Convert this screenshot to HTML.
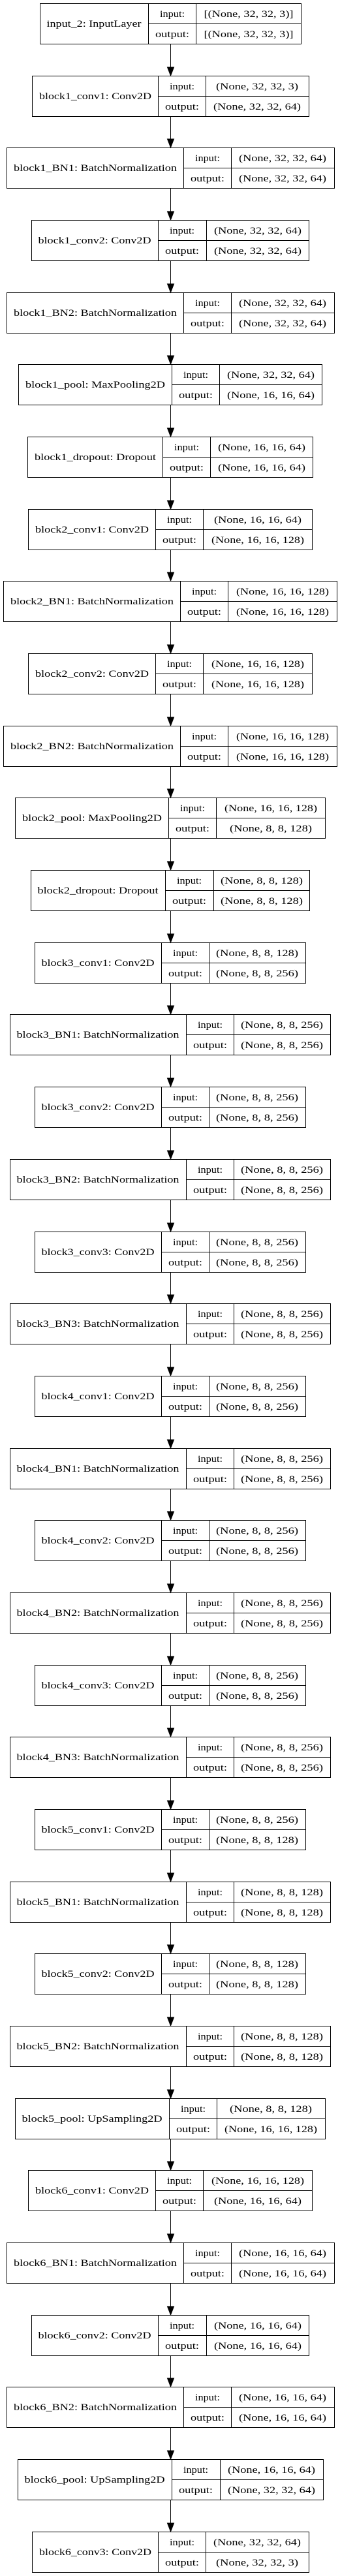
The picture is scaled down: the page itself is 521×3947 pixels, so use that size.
<!DOCTYPE html>
<html><head><meta charset="utf-8"><style>
html,body{margin:0;padding:0;background:#fff}
svg{display:block}
text{font-family:"Liberation Serif","DejaVu Serif",serif;font-size:15px;fill:#000;text-anchor:middle}
rect{fill:#fff;stroke:#000;stroke-width:1}
line{stroke:#000;stroke-width:1}
polygon{fill:#000;stroke:#000}
</style></head><body>
<svg width="521" height="3947" viewBox="0 0 521 3947" xmlns="http://www.w3.org/2000/svg">
<g transform="translate(0,5)"><rect x="61.5" y="0.5" width="400" height="62"/><line x1="227.5" y1="0.5" x2="227.5" y2="62.5"/><line x1="300.5" y1="0.5" x2="300.5" y2="62.5"/><line x1="227.5" y1="31.5" x2="461.5" y2="31.5"/><text x="144" y="36" textLength="145" lengthAdjust="spacingAndGlyphs">input_2: InputLayer</text><text x="264" y="21" textLength="38" lengthAdjust="spacingAndGlyphs">input:</text><text x="264" y="52" textLength="52" lengthAdjust="spacingAndGlyphs">output:</text><text x="381" y="21" textLength="137" lengthAdjust="spacingAndGlyphs">[(None, 32, 32, 3)]</text><text x="381" y="52" textLength="137" lengthAdjust="spacingAndGlyphs">[(None, 32, 32, 3)]</text></g>
<g transform="translate(0,116)"><rect x="49.5" y="0.5" width="424" height="62"/><line x1="242.5" y1="0.5" x2="242.5" y2="62.5"/><line x1="315.5" y1="0.5" x2="315.5" y2="62.5"/><line x1="242.5" y1="31.5" x2="473.5" y2="31.5"/><text x="146" y="36" textLength="172" lengthAdjust="spacingAndGlyphs">block1_conv1: Conv2D</text><text x="279" y="21" textLength="38" lengthAdjust="spacingAndGlyphs">input:</text><text x="279" y="52" textLength="52" lengthAdjust="spacingAndGlyphs">output:</text><text x="394" y="21" textLength="126" lengthAdjust="spacingAndGlyphs">(None, 32, 32, 3)</text><text x="394" y="52" textLength="134" lengthAdjust="spacingAndGlyphs">(None, 32, 32, 64)</text></g>
<g transform="translate(0,226)"><rect x="10.5" y="0.5" width="502" height="62"/><line x1="281.5" y1="0.5" x2="281.5" y2="62.5"/><line x1="354.5" y1="0.5" x2="354.5" y2="62.5"/><line x1="281.5" y1="31.5" x2="512.5" y2="31.5"/><text x="146" y="36" textLength="250" lengthAdjust="spacingAndGlyphs">block1_BN1: BatchNormalization</text><text x="318" y="21" textLength="38" lengthAdjust="spacingAndGlyphs">input:</text><text x="318" y="52" textLength="52" lengthAdjust="spacingAndGlyphs">output:</text><text x="433" y="21" textLength="134" lengthAdjust="spacingAndGlyphs">(None, 32, 32, 64)</text><text x="433" y="52" textLength="134" lengthAdjust="spacingAndGlyphs">(None, 32, 32, 64)</text></g>
<g transform="translate(0,337)"><rect x="48.5" y="0.5" width="425" height="62"/><line x1="242.5" y1="0.5" x2="242.5" y2="62.5"/><line x1="316.5" y1="0.5" x2="316.5" y2="62.5"/><line x1="242.5" y1="31.5" x2="473.5" y2="31.5"/><text x="145" y="36" textLength="173" lengthAdjust="spacingAndGlyphs">block1_conv2: Conv2D</text><text x="279" y="21" textLength="38" lengthAdjust="spacingAndGlyphs">input:</text><text x="279" y="52" textLength="52" lengthAdjust="spacingAndGlyphs">output:</text><text x="395" y="21" textLength="134" lengthAdjust="spacingAndGlyphs">(None, 32, 32, 64)</text><text x="395" y="52" textLength="134" lengthAdjust="spacingAndGlyphs">(None, 32, 32, 64)</text></g>
<g transform="translate(0,448)"><rect x="10.5" y="0.5" width="502" height="62"/><line x1="281.5" y1="0.5" x2="281.5" y2="62.5"/><line x1="354.5" y1="0.5" x2="354.5" y2="62.5"/><line x1="281.5" y1="31.5" x2="512.5" y2="31.5"/><text x="146" y="36" textLength="250" lengthAdjust="spacingAndGlyphs">block1_BN2: BatchNormalization</text><text x="318" y="21" textLength="38" lengthAdjust="spacingAndGlyphs">input:</text><text x="318" y="52" textLength="52" lengthAdjust="spacingAndGlyphs">output:</text><text x="433" y="21" textLength="134" lengthAdjust="spacingAndGlyphs">(None, 32, 32, 64)</text><text x="433" y="52" textLength="134" lengthAdjust="spacingAndGlyphs">(None, 32, 32, 64)</text></g>
<g transform="translate(0,558)"><rect x="28.5" y="0.5" width="465" height="62"/><line x1="263.5" y1="0.5" x2="263.5" y2="62.5"/><line x1="336.5" y1="0.5" x2="336.5" y2="62.5"/><line x1="263.5" y1="31.5" x2="493.5" y2="31.5"/><text x="146" y="36" textLength="214" lengthAdjust="spacingAndGlyphs">block1_pool: MaxPooling2D</text><text x="300" y="21" textLength="38" lengthAdjust="spacingAndGlyphs">input:</text><text x="300" y="52" textLength="52" lengthAdjust="spacingAndGlyphs">output:</text><text x="415" y="21" textLength="134" lengthAdjust="spacingAndGlyphs">(None, 32, 32, 64)</text><text x="415" y="52" textLength="134" lengthAdjust="spacingAndGlyphs">(None, 16, 16, 64)</text></g>
<g transform="translate(0,669)"><rect x="42.5" y="0.5" width="437" height="62"/><line x1="249.5" y1="0.5" x2="249.5" y2="62.5"/><line x1="322.5" y1="0.5" x2="322.5" y2="62.5"/><line x1="249.5" y1="31.5" x2="479.5" y2="31.5"/><text x="146" y="36" textLength="186" lengthAdjust="spacingAndGlyphs">block1_dropout: Dropout</text><text x="286" y="21" textLength="38" lengthAdjust="spacingAndGlyphs">input:</text><text x="286" y="52" textLength="52" lengthAdjust="spacingAndGlyphs">output:</text><text x="401" y="21" textLength="134" lengthAdjust="spacingAndGlyphs">(None, 16, 16, 64)</text><text x="401" y="52" textLength="134" lengthAdjust="spacingAndGlyphs">(None, 16, 16, 64)</text></g>
<g transform="translate(0,780)"><rect x="43.5" y="0.5" width="435" height="62"/><line x1="238.5" y1="0.5" x2="238.5" y2="62.5"/><line x1="311.5" y1="0.5" x2="311.5" y2="62.5"/><line x1="238.5" y1="31.5" x2="478.5" y2="31.5"/><text x="141" y="36" textLength="174" lengthAdjust="spacingAndGlyphs">block2_conv1: Conv2D</text><text x="275" y="21" textLength="38" lengthAdjust="spacingAndGlyphs">input:</text><text x="275" y="52" textLength="52" lengthAdjust="spacingAndGlyphs">output:</text><text x="395" y="21" textLength="134" lengthAdjust="spacingAndGlyphs">(None, 16, 16, 64)</text><text x="395" y="52" textLength="142" lengthAdjust="spacingAndGlyphs">(None, 16, 16, 128)</text></g>
<g transform="translate(0,890)"><rect x="5.5" y="0.5" width="511" height="62"/><line x1="276.5" y1="0.5" x2="276.5" y2="62.5"/><line x1="349.5" y1="0.5" x2="349.5" y2="62.5"/><line x1="276.5" y1="31.5" x2="516.5" y2="31.5"/><text x="141" y="36" textLength="250" lengthAdjust="spacingAndGlyphs">block2_BN1: BatchNormalization</text><text x="313" y="21" textLength="38" lengthAdjust="spacingAndGlyphs">input:</text><text x="313" y="52" textLength="52" lengthAdjust="spacingAndGlyphs">output:</text><text x="433" y="21" textLength="142" lengthAdjust="spacingAndGlyphs">(None, 16, 16, 128)</text><text x="433" y="52" textLength="142" lengthAdjust="spacingAndGlyphs">(None, 16, 16, 128)</text></g>
<g transform="translate(0,1001)"><rect x="43.5" y="0.5" width="435" height="62"/><line x1="238.5" y1="0.5" x2="238.5" y2="62.5"/><line x1="311.5" y1="0.5" x2="311.5" y2="62.5"/><line x1="238.5" y1="31.5" x2="478.5" y2="31.5"/><text x="141" y="36" textLength="174" lengthAdjust="spacingAndGlyphs">block2_conv2: Conv2D</text><text x="275" y="21" textLength="38" lengthAdjust="spacingAndGlyphs">input:</text><text x="275" y="52" textLength="52" lengthAdjust="spacingAndGlyphs">output:</text><text x="395" y="21" textLength="142" lengthAdjust="spacingAndGlyphs">(None, 16, 16, 128)</text><text x="395" y="52" textLength="142" lengthAdjust="spacingAndGlyphs">(None, 16, 16, 128)</text></g>
<g transform="translate(0,1112)"><rect x="5.5" y="0.5" width="511" height="62"/><line x1="276.5" y1="0.5" x2="276.5" y2="62.5"/><line x1="349.5" y1="0.5" x2="349.5" y2="62.5"/><line x1="276.5" y1="31.5" x2="516.5" y2="31.5"/><text x="141" y="36" textLength="250" lengthAdjust="spacingAndGlyphs">block2_BN2: BatchNormalization</text><text x="313" y="21" textLength="38" lengthAdjust="spacingAndGlyphs">input:</text><text x="313" y="52" textLength="52" lengthAdjust="spacingAndGlyphs">output:</text><text x="433" y="21" textLength="142" lengthAdjust="spacingAndGlyphs">(None, 16, 16, 128)</text><text x="433" y="52" textLength="142" lengthAdjust="spacingAndGlyphs">(None, 16, 16, 128)</text></g>
<g transform="translate(0,1222)"><rect x="23.5" y="0.5" width="475" height="62"/><line x1="258.5" y1="0.5" x2="258.5" y2="62.5"/><line x1="331.5" y1="0.5" x2="331.5" y2="62.5"/><line x1="258.5" y1="31.5" x2="498.5" y2="31.5"/><text x="141" y="36" textLength="214" lengthAdjust="spacingAndGlyphs">block2_pool: MaxPooling2D</text><text x="295" y="21" textLength="38" lengthAdjust="spacingAndGlyphs">input:</text><text x="295" y="52" textLength="52" lengthAdjust="spacingAndGlyphs">output:</text><text x="415" y="21" textLength="142" lengthAdjust="spacingAndGlyphs">(None, 16, 16, 128)</text><text x="415" y="52" textLength="126" lengthAdjust="spacingAndGlyphs">(None, 8, 8, 128)</text></g>
<g transform="translate(0,1333)"><rect x="47.5" y="0.5" width="427" height="62"/><line x1="253.5" y1="0.5" x2="253.5" y2="62.5"/><line x1="327.5" y1="0.5" x2="327.5" y2="62.5"/><line x1="253.5" y1="31.5" x2="474.5" y2="31.5"/><text x="150" y="36" textLength="185" lengthAdjust="spacingAndGlyphs">block2_dropout: Dropout</text><text x="290" y="21" textLength="38" lengthAdjust="spacingAndGlyphs">input:</text><text x="290" y="52" textLength="52" lengthAdjust="spacingAndGlyphs">output:</text><text x="401" y="21" textLength="126" lengthAdjust="spacingAndGlyphs">(None, 8, 8, 128)</text><text x="401" y="52" textLength="126" lengthAdjust="spacingAndGlyphs">(None, 8, 8, 128)</text></g>
<g transform="translate(0,1444)"><rect x="53.5" y="0.5" width="415" height="62"/><line x1="247.5" y1="0.5" x2="247.5" y2="62.5"/><line x1="320.5" y1="0.5" x2="320.5" y2="62.5"/><line x1="247.5" y1="31.5" x2="468.5" y2="31.5"/><text x="150" y="36" textLength="173" lengthAdjust="spacingAndGlyphs">block3_conv1: Conv2D</text><text x="284" y="21" textLength="38" lengthAdjust="spacingAndGlyphs">input:</text><text x="284" y="52" textLength="52" lengthAdjust="spacingAndGlyphs">output:</text><text x="394" y="21" textLength="126" lengthAdjust="spacingAndGlyphs">(None, 8, 8, 128)</text><text x="394" y="52" textLength="126" lengthAdjust="spacingAndGlyphs">(None, 8, 8, 256)</text></g>
<g transform="translate(0,1554)"><rect x="15.5" y="0.5" width="491" height="62"/><line x1="285.5" y1="0.5" x2="285.5" y2="62.5"/><line x1="358.5" y1="0.5" x2="358.5" y2="62.5"/><line x1="285.5" y1="31.5" x2="506.5" y2="31.5"/><text x="150" y="36" textLength="249" lengthAdjust="spacingAndGlyphs">block3_BN1: BatchNormalization</text><text x="322" y="21" textLength="38" lengthAdjust="spacingAndGlyphs">input:</text><text x="322" y="52" textLength="52" lengthAdjust="spacingAndGlyphs">output:</text><text x="432" y="21" textLength="126" lengthAdjust="spacingAndGlyphs">(None, 8, 8, 256)</text><text x="432" y="52" textLength="126" lengthAdjust="spacingAndGlyphs">(None, 8, 8, 256)</text></g>
<g transform="translate(0,1665)"><rect x="53.5" y="0.5" width="415" height="62"/><line x1="247.5" y1="0.5" x2="247.5" y2="62.5"/><line x1="320.5" y1="0.5" x2="320.5" y2="62.5"/><line x1="247.5" y1="31.5" x2="468.5" y2="31.5"/><text x="150" y="36" textLength="173" lengthAdjust="spacingAndGlyphs">block3_conv2: Conv2D</text><text x="284" y="21" textLength="38" lengthAdjust="spacingAndGlyphs">input:</text><text x="284" y="52" textLength="52" lengthAdjust="spacingAndGlyphs">output:</text><text x="394" y="21" textLength="126" lengthAdjust="spacingAndGlyphs">(None, 8, 8, 256)</text><text x="394" y="52" textLength="126" lengthAdjust="spacingAndGlyphs">(None, 8, 8, 256)</text></g>
<g transform="translate(0,1776)"><rect x="15.5" y="0.5" width="491" height="62"/><line x1="285.5" y1="0.5" x2="285.5" y2="62.5"/><line x1="358.5" y1="0.5" x2="358.5" y2="62.5"/><line x1="285.5" y1="31.5" x2="506.5" y2="31.5"/><text x="150" y="36" textLength="249" lengthAdjust="spacingAndGlyphs">block3_BN2: BatchNormalization</text><text x="322" y="21" textLength="38" lengthAdjust="spacingAndGlyphs">input:</text><text x="322" y="52" textLength="52" lengthAdjust="spacingAndGlyphs">output:</text><text x="432" y="21" textLength="126" lengthAdjust="spacingAndGlyphs">(None, 8, 8, 256)</text><text x="432" y="52" textLength="126" lengthAdjust="spacingAndGlyphs">(None, 8, 8, 256)</text></g>
<g transform="translate(0,1887)"><rect x="53.5" y="0.5" width="415" height="62"/><line x1="247.5" y1="0.5" x2="247.5" y2="62.5"/><line x1="320.5" y1="0.5" x2="320.5" y2="62.5"/><line x1="247.5" y1="31.5" x2="468.5" y2="31.5"/><text x="150" y="36" textLength="173" lengthAdjust="spacingAndGlyphs">block3_conv3: Conv2D</text><text x="284" y="21" textLength="38" lengthAdjust="spacingAndGlyphs">input:</text><text x="284" y="52" textLength="52" lengthAdjust="spacingAndGlyphs">output:</text><text x="394" y="21" textLength="126" lengthAdjust="spacingAndGlyphs">(None, 8, 8, 256)</text><text x="394" y="52" textLength="126" lengthAdjust="spacingAndGlyphs">(None, 8, 8, 256)</text></g>
<g transform="translate(0,1997)"><rect x="15.5" y="0.5" width="491" height="62"/><line x1="285.5" y1="0.5" x2="285.5" y2="62.5"/><line x1="358.5" y1="0.5" x2="358.5" y2="62.5"/><line x1="285.5" y1="31.5" x2="506.5" y2="31.5"/><text x="150" y="36" textLength="249" lengthAdjust="spacingAndGlyphs">block3_BN3: BatchNormalization</text><text x="322" y="21" textLength="38" lengthAdjust="spacingAndGlyphs">input:</text><text x="322" y="52" textLength="52" lengthAdjust="spacingAndGlyphs">output:</text><text x="432" y="21" textLength="126" lengthAdjust="spacingAndGlyphs">(None, 8, 8, 256)</text><text x="432" y="52" textLength="126" lengthAdjust="spacingAndGlyphs">(None, 8, 8, 256)</text></g>
<g transform="translate(0,2108)"><rect x="53.5" y="0.5" width="415" height="62"/><line x1="247.5" y1="0.5" x2="247.5" y2="62.5"/><line x1="320.5" y1="0.5" x2="320.5" y2="62.5"/><line x1="247.5" y1="31.5" x2="468.5" y2="31.5"/><text x="150" y="36" textLength="173" lengthAdjust="spacingAndGlyphs">block4_conv1: Conv2D</text><text x="284" y="21" textLength="38" lengthAdjust="spacingAndGlyphs">input:</text><text x="284" y="52" textLength="52" lengthAdjust="spacingAndGlyphs">output:</text><text x="394" y="21" textLength="126" lengthAdjust="spacingAndGlyphs">(None, 8, 8, 256)</text><text x="394" y="52" textLength="126" lengthAdjust="spacingAndGlyphs">(None, 8, 8, 256)</text></g>
<g transform="translate(0,2219)"><rect x="15.5" y="0.5" width="491" height="62"/><line x1="285.5" y1="0.5" x2="285.5" y2="62.5"/><line x1="358.5" y1="0.5" x2="358.5" y2="62.5"/><line x1="285.5" y1="31.5" x2="506.5" y2="31.5"/><text x="150" y="36" textLength="249" lengthAdjust="spacingAndGlyphs">block4_BN1: BatchNormalization</text><text x="322" y="21" textLength="38" lengthAdjust="spacingAndGlyphs">input:</text><text x="322" y="52" textLength="52" lengthAdjust="spacingAndGlyphs">output:</text><text x="432" y="21" textLength="126" lengthAdjust="spacingAndGlyphs">(None, 8, 8, 256)</text><text x="432" y="52" textLength="126" lengthAdjust="spacingAndGlyphs">(None, 8, 8, 256)</text></g>
<g transform="translate(0,2329)"><rect x="53.5" y="0.5" width="415" height="62"/><line x1="247.5" y1="0.5" x2="247.5" y2="62.5"/><line x1="320.5" y1="0.5" x2="320.5" y2="62.5"/><line x1="247.5" y1="31.5" x2="468.5" y2="31.5"/><text x="150" y="36" textLength="173" lengthAdjust="spacingAndGlyphs">block4_conv2: Conv2D</text><text x="284" y="21" textLength="38" lengthAdjust="spacingAndGlyphs">input:</text><text x="284" y="52" textLength="52" lengthAdjust="spacingAndGlyphs">output:</text><text x="394" y="21" textLength="126" lengthAdjust="spacingAndGlyphs">(None, 8, 8, 256)</text><text x="394" y="52" textLength="126" lengthAdjust="spacingAndGlyphs">(None, 8, 8, 256)</text></g>
<g transform="translate(0,2440)"><rect x="15.5" y="0.5" width="491" height="62"/><line x1="285.5" y1="0.5" x2="285.5" y2="62.5"/><line x1="358.5" y1="0.5" x2="358.5" y2="62.5"/><line x1="285.5" y1="31.5" x2="506.5" y2="31.5"/><text x="150" y="36" textLength="249" lengthAdjust="spacingAndGlyphs">block4_BN2: BatchNormalization</text><text x="322" y="21" textLength="38" lengthAdjust="spacingAndGlyphs">input:</text><text x="322" y="52" textLength="52" lengthAdjust="spacingAndGlyphs">output:</text><text x="432" y="21" textLength="126" lengthAdjust="spacingAndGlyphs">(None, 8, 8, 256)</text><text x="432" y="52" textLength="126" lengthAdjust="spacingAndGlyphs">(None, 8, 8, 256)</text></g>
<g transform="translate(0,2551)"><rect x="53.5" y="0.5" width="415" height="62"/><line x1="247.5" y1="0.5" x2="247.5" y2="62.5"/><line x1="320.5" y1="0.5" x2="320.5" y2="62.5"/><line x1="247.5" y1="31.5" x2="468.5" y2="31.5"/><text x="150" y="36" textLength="173" lengthAdjust="spacingAndGlyphs">block4_conv3: Conv2D</text><text x="284" y="21" textLength="38" lengthAdjust="spacingAndGlyphs">input:</text><text x="284" y="52" textLength="52" lengthAdjust="spacingAndGlyphs">output:</text><text x="394" y="21" textLength="126" lengthAdjust="spacingAndGlyphs">(None, 8, 8, 256)</text><text x="394" y="52" textLength="126" lengthAdjust="spacingAndGlyphs">(None, 8, 8, 256)</text></g>
<g transform="translate(0,2661)"><rect x="15.5" y="0.5" width="491" height="62"/><line x1="285.5" y1="0.5" x2="285.5" y2="62.5"/><line x1="358.5" y1="0.5" x2="358.5" y2="62.5"/><line x1="285.5" y1="31.5" x2="506.5" y2="31.5"/><text x="150" y="36" textLength="249" lengthAdjust="spacingAndGlyphs">block4_BN3: BatchNormalization</text><text x="322" y="21" textLength="38" lengthAdjust="spacingAndGlyphs">input:</text><text x="322" y="52" textLength="52" lengthAdjust="spacingAndGlyphs">output:</text><text x="432" y="21" textLength="126" lengthAdjust="spacingAndGlyphs">(None, 8, 8, 256)</text><text x="432" y="52" textLength="126" lengthAdjust="spacingAndGlyphs">(None, 8, 8, 256)</text></g>
<g transform="translate(0,2772)"><rect x="53.5" y="0.5" width="415" height="62"/><line x1="247.5" y1="0.5" x2="247.5" y2="62.5"/><line x1="320.5" y1="0.5" x2="320.5" y2="62.5"/><line x1="247.5" y1="31.5" x2="468.5" y2="31.5"/><text x="150" y="36" textLength="173" lengthAdjust="spacingAndGlyphs">block5_conv1: Conv2D</text><text x="284" y="21" textLength="38" lengthAdjust="spacingAndGlyphs">input:</text><text x="284" y="52" textLength="52" lengthAdjust="spacingAndGlyphs">output:</text><text x="394" y="21" textLength="126" lengthAdjust="spacingAndGlyphs">(None, 8, 8, 256)</text><text x="394" y="52" textLength="126" lengthAdjust="spacingAndGlyphs">(None, 8, 8, 128)</text></g>
<g transform="translate(0,2883)"><rect x="15.5" y="0.5" width="491" height="62"/><line x1="285.5" y1="0.5" x2="285.5" y2="62.5"/><line x1="358.5" y1="0.5" x2="358.5" y2="62.5"/><line x1="285.5" y1="31.5" x2="506.5" y2="31.5"/><text x="150" y="36" textLength="249" lengthAdjust="spacingAndGlyphs">block5_BN1: BatchNormalization</text><text x="322" y="21" textLength="38" lengthAdjust="spacingAndGlyphs">input:</text><text x="322" y="52" textLength="52" lengthAdjust="spacingAndGlyphs">output:</text><text x="432" y="21" textLength="126" lengthAdjust="spacingAndGlyphs">(None, 8, 8, 128)</text><text x="432" y="52" textLength="126" lengthAdjust="spacingAndGlyphs">(None, 8, 8, 128)</text></g>
<g transform="translate(0,2993)"><rect x="53.5" y="0.5" width="415" height="62"/><line x1="247.5" y1="0.5" x2="247.5" y2="62.5"/><line x1="320.5" y1="0.5" x2="320.5" y2="62.5"/><line x1="247.5" y1="31.5" x2="468.5" y2="31.5"/><text x="150" y="36" textLength="173" lengthAdjust="spacingAndGlyphs">block5_conv2: Conv2D</text><text x="284" y="21" textLength="38" lengthAdjust="spacingAndGlyphs">input:</text><text x="284" y="52" textLength="52" lengthAdjust="spacingAndGlyphs">output:</text><text x="394" y="21" textLength="126" lengthAdjust="spacingAndGlyphs">(None, 8, 8, 128)</text><text x="394" y="52" textLength="126" lengthAdjust="spacingAndGlyphs">(None, 8, 8, 128)</text></g>
<g transform="translate(0,3104)"><rect x="15.5" y="0.5" width="491" height="62"/><line x1="285.5" y1="0.5" x2="285.5" y2="62.5"/><line x1="358.5" y1="0.5" x2="358.5" y2="62.5"/><line x1="285.5" y1="31.5" x2="506.5" y2="31.5"/><text x="150" y="36" textLength="249" lengthAdjust="spacingAndGlyphs">block5_BN2: BatchNormalization</text><text x="322" y="21" textLength="38" lengthAdjust="spacingAndGlyphs">input:</text><text x="322" y="52" textLength="52" lengthAdjust="spacingAndGlyphs">output:</text><text x="432" y="21" textLength="126" lengthAdjust="spacingAndGlyphs">(None, 8, 8, 128)</text><text x="432" y="52" textLength="126" lengthAdjust="spacingAndGlyphs">(None, 8, 8, 128)</text></g>
<g transform="translate(0,3215)"><rect x="23.5" y="0.5" width="475" height="62"/><line x1="259.5" y1="0.5" x2="259.5" y2="62.5"/><line x1="332.5" y1="0.5" x2="332.5" y2="62.5"/><line x1="259.5" y1="31.5" x2="498.5" y2="31.5"/><text x="141" y="36" textLength="215" lengthAdjust="spacingAndGlyphs">block5_pool: UpSampling2D</text><text x="296" y="21" textLength="38" lengthAdjust="spacingAndGlyphs">input:</text><text x="296" y="52" textLength="52" lengthAdjust="spacingAndGlyphs">output:</text><text x="415" y="21" textLength="126" lengthAdjust="spacingAndGlyphs">(None, 8, 8, 128)</text><text x="415" y="52" textLength="142" lengthAdjust="spacingAndGlyphs">(None, 16, 16, 128)</text></g>
<g transform="translate(0,3325)"><rect x="43.5" y="0.5" width="435" height="62"/><line x1="238.5" y1="0.5" x2="238.5" y2="62.5"/><line x1="311.5" y1="0.5" x2="311.5" y2="62.5"/><line x1="238.5" y1="31.5" x2="478.5" y2="31.5"/><text x="141" y="36" textLength="174" lengthAdjust="spacingAndGlyphs">block6_conv1: Conv2D</text><text x="275" y="21" textLength="38" lengthAdjust="spacingAndGlyphs">input:</text><text x="275" y="52" textLength="52" lengthAdjust="spacingAndGlyphs">output:</text><text x="395" y="21" textLength="142" lengthAdjust="spacingAndGlyphs">(None, 16, 16, 128)</text><text x="395" y="52" textLength="134" lengthAdjust="spacingAndGlyphs">(None, 16, 16, 64)</text></g>
<g transform="translate(0,3436)"><rect x="10.5" y="0.5" width="502" height="62"/><line x1="281.5" y1="0.5" x2="281.5" y2="62.5"/><line x1="354.5" y1="0.5" x2="354.5" y2="62.5"/><line x1="281.5" y1="31.5" x2="512.5" y2="31.5"/><text x="146" y="36" textLength="250" lengthAdjust="spacingAndGlyphs">block6_BN1: BatchNormalization</text><text x="318" y="21" textLength="38" lengthAdjust="spacingAndGlyphs">input:</text><text x="318" y="52" textLength="52" lengthAdjust="spacingAndGlyphs">output:</text><text x="433" y="21" textLength="134" lengthAdjust="spacingAndGlyphs">(None, 16, 16, 64)</text><text x="433" y="52" textLength="134" lengthAdjust="spacingAndGlyphs">(None, 16, 16, 64)</text></g>
<g transform="translate(0,3547)"><rect x="48.5" y="0.5" width="425" height="62"/><line x1="242.5" y1="0.5" x2="242.5" y2="62.5"/><line x1="316.5" y1="0.5" x2="316.5" y2="62.5"/><line x1="242.5" y1="31.5" x2="473.5" y2="31.5"/><text x="145" y="36" textLength="173" lengthAdjust="spacingAndGlyphs">block6_conv2: Conv2D</text><text x="279" y="21" textLength="38" lengthAdjust="spacingAndGlyphs">input:</text><text x="279" y="52" textLength="52" lengthAdjust="spacingAndGlyphs">output:</text><text x="395" y="21" textLength="134" lengthAdjust="spacingAndGlyphs">(None, 16, 16, 64)</text><text x="395" y="52" textLength="134" lengthAdjust="spacingAndGlyphs">(None, 16, 16, 64)</text></g>
<g transform="translate(0,3657)"><rect x="10.5" y="0.5" width="502" height="62"/><line x1="281.5" y1="0.5" x2="281.5" y2="62.5"/><line x1="354.5" y1="0.5" x2="354.5" y2="62.5"/><line x1="281.5" y1="31.5" x2="512.5" y2="31.5"/><text x="146" y="36" textLength="250" lengthAdjust="spacingAndGlyphs">block6_BN2: BatchNormalization</text><text x="318" y="21" textLength="38" lengthAdjust="spacingAndGlyphs">input:</text><text x="318" y="52" textLength="52" lengthAdjust="spacingAndGlyphs">output:</text><text x="433" y="21" textLength="134" lengthAdjust="spacingAndGlyphs">(None, 16, 16, 64)</text><text x="433" y="52" textLength="134" lengthAdjust="spacingAndGlyphs">(None, 16, 16, 64)</text></g>
<g transform="translate(0,3768)"><rect x="27.5" y="0.5" width="468" height="62"/><line x1="263.5" y1="0.5" x2="263.5" y2="62.5"/><line x1="337.5" y1="0.5" x2="337.5" y2="62.5"/><line x1="263.5" y1="31.5" x2="495.5" y2="31.5"/><text x="145" y="36" textLength="215" lengthAdjust="spacingAndGlyphs">block6_pool: UpSampling2D</text><text x="300" y="21" textLength="38" lengthAdjust="spacingAndGlyphs">input:</text><text x="300" y="52" textLength="52" lengthAdjust="spacingAndGlyphs">output:</text><text x="416" y="21" textLength="134" lengthAdjust="spacingAndGlyphs">(None, 16, 16, 64)</text><text x="416" y="52" textLength="134" lengthAdjust="spacingAndGlyphs">(None, 32, 32, 64)</text></g>
<g transform="translate(0,3879)"><rect x="49.5" y="0.5" width="424" height="62"/><line x1="242.5" y1="0.5" x2="242.5" y2="62.5"/><line x1="315.5" y1="0.5" x2="315.5" y2="62.5"/><line x1="242.5" y1="31.5" x2="473.5" y2="31.5"/><text x="146" y="36" textLength="172" lengthAdjust="spacingAndGlyphs">block6_conv3: Conv2D</text><text x="279" y="21" textLength="38" lengthAdjust="spacingAndGlyphs">input:</text><text x="279" y="52" textLength="52" lengthAdjust="spacingAndGlyphs">output:</text><text x="394" y="21" textLength="134" lengthAdjust="spacingAndGlyphs">(None, 32, 32, 64)</text><text x="394" y="52" textLength="126" lengthAdjust="spacingAndGlyphs">(None, 32, 32, 3)</text></g>
<g>
<line x1="261.5" y1="67" x2="261.5" y2="103"/><polygon points="256.5,103 266.5,103 261.5,116"/>
<line x1="261.5" y1="178" x2="261.5" y2="213"/><polygon points="256.5,213 266.5,213 261.5,226"/>
<line x1="261.5" y1="288" x2="261.5" y2="324"/><polygon points="256.5,324 266.5,324 261.5,337"/>
<line x1="261.5" y1="399" x2="261.5" y2="435"/><polygon points="256.5,435 266.5,435 261.5,448"/>
<line x1="261.5" y1="510" x2="261.5" y2="545"/><polygon points="256.5,545 266.5,545 261.5,558"/>
<line x1="261.5" y1="620" x2="261.5" y2="656"/><polygon points="256.5,656 266.5,656 261.5,669"/>
<line x1="261.5" y1="731" x2="261.5" y2="767"/><polygon points="256.5,767 266.5,767 261.5,780"/>
<line x1="261.5" y1="842" x2="261.5" y2="877"/><polygon points="256.5,877 266.5,877 261.5,890"/>
<line x1="261.5" y1="952" x2="261.5" y2="988"/><polygon points="256.5,988 266.5,988 261.5,1001"/>
<line x1="261.5" y1="1063" x2="261.5" y2="1099"/><polygon points="256.5,1099 266.5,1099 261.5,1112"/>
<line x1="261.5" y1="1174" x2="261.5" y2="1209"/><polygon points="256.5,1209 266.5,1209 261.5,1222"/>
<line x1="261.5" y1="1284" x2="261.5" y2="1320"/><polygon points="256.5,1320 266.5,1320 261.5,1333"/>
<line x1="261.5" y1="1395" x2="261.5" y2="1431"/><polygon points="256.5,1431 266.5,1431 261.5,1444"/>
<line x1="261.5" y1="1506" x2="261.5" y2="1541"/><polygon points="256.5,1541 266.5,1541 261.5,1554"/>
<line x1="261.5" y1="1616" x2="261.5" y2="1652"/><polygon points="256.5,1652 266.5,1652 261.5,1665"/>
<line x1="261.5" y1="1727" x2="261.5" y2="1763"/><polygon points="256.5,1763 266.5,1763 261.5,1776"/>
<line x1="261.5" y1="1838" x2="261.5" y2="1874"/><polygon points="256.5,1874 266.5,1874 261.5,1887"/>
<line x1="261.5" y1="1949" x2="261.5" y2="1984"/><polygon points="256.5,1984 266.5,1984 261.5,1997"/>
<line x1="261.5" y1="2059" x2="261.5" y2="2095"/><polygon points="256.5,2095 266.5,2095 261.5,2108"/>
<line x1="261.5" y1="2170" x2="261.5" y2="2206"/><polygon points="256.5,2206 266.5,2206 261.5,2219"/>
<line x1="261.5" y1="2281" x2="261.5" y2="2316"/><polygon points="256.5,2316 266.5,2316 261.5,2329"/>
<line x1="261.5" y1="2391" x2="261.5" y2="2427"/><polygon points="256.5,2427 266.5,2427 261.5,2440"/>
<line x1="261.5" y1="2502" x2="261.5" y2="2538"/><polygon points="256.5,2538 266.5,2538 261.5,2551"/>
<line x1="261.5" y1="2613" x2="261.5" y2="2648"/><polygon points="256.5,2648 266.5,2648 261.5,2661"/>
<line x1="261.5" y1="2723" x2="261.5" y2="2759"/><polygon points="256.5,2759 266.5,2759 261.5,2772"/>
<line x1="261.5" y1="2834" x2="261.5" y2="2870"/><polygon points="256.5,2870 266.5,2870 261.5,2883"/>
<line x1="261.5" y1="2945" x2="261.5" y2="2980"/><polygon points="256.5,2980 266.5,2980 261.5,2993"/>
<line x1="261.5" y1="3055" x2="261.5" y2="3091"/><polygon points="256.5,3091 266.5,3091 261.5,3104"/>
<line x1="261.5" y1="3166" x2="261.5" y2="3202"/><polygon points="256.5,3202 266.5,3202 261.5,3215"/>
<line x1="261.5" y1="3277" x2="261.5" y2="3312"/><polygon points="256.5,3312 266.5,3312 261.5,3325"/>
<line x1="261.5" y1="3387" x2="261.5" y2="3423"/><polygon points="256.5,3423 266.5,3423 261.5,3436"/>
<line x1="261.5" y1="3498" x2="261.5" y2="3534"/><polygon points="256.5,3534 266.5,3534 261.5,3547"/>
<line x1="261.5" y1="3609" x2="261.5" y2="3644"/><polygon points="256.5,3644 266.5,3644 261.5,3657"/>
<line x1="261.5" y1="3719" x2="261.5" y2="3755"/><polygon points="256.5,3755 266.5,3755 261.5,3768"/>
<line x1="261.5" y1="3830" x2="261.5" y2="3866"/><polygon points="256.5,3866 266.5,3866 261.5,3879"/>
</g>
</svg>
</body></html>
